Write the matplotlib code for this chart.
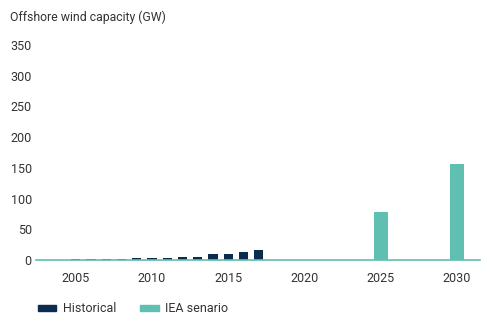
import matplotlib
matplotlib.use("Agg")
import matplotlib.pyplot as plt
from matplotlib.patches import Patch

plt.rcParams['font.family'] = ['Roboto', 'DejaVu Sans']

# data
hist_years = [2005, 2006, 2007, 2008, 2009, 2010, 2011, 2012, 2013, 2014, 2015, 2016, 2017]
hist_values = [1, 1, 1, 1, 2.5, 2.5, 4, 5.5, 5.5, 10, 10, 13, 17]
scen_years = [2025, 2030]
scen_values = [78, 156]
xtick_years = [2005, 2010, 2015, 2020, 2025, 2030]
ytick_values = [0, 50, 100, 150, 200, 250, 300, 350]

navy = "#0b2b4f"
teal = "#5fbfb0"
text_col = "#333333"

fig = plt.figure(figsize=(4.94, 3.25), dpi=100)
ax = fig.add_axes([36 / 494, 1 - 260 / 325, (480 - 36) / 494, (260 - 45) / 325])

ax.bar(hist_years, hist_values, width=0.6, color=navy)
ax.bar(scen_years, scen_values, width=0.92, color=teal)

ax.set_xlim(2002.4, 2031.5)
ax.set_ylim(0, 350)
ax.set_xticks(xtick_years)
ax.set_yticks(ytick_values)
ax.tick_params(length=0, labelsize=9, colors=text_col)
ax.tick_params(axis='x', pad=9)
ax.tick_params(axis='y', pad=3)

for s in ['top', 'right', 'left']:
    ax.spines[s].set_visible(False)
ax.spines['bottom'].set_color(teal)
ax.spines['bottom'].set_linewidth(1.2)

fig.text(10 / 494, 1 - 17 / 325, "Offshore wind capacity (GW)", fontsize=8.8,
         color=text_col, va='center', ha='left')

handles = [Patch(color=navy, label="Historical"), Patch(color=teal, label="IEA senario")]
fig.legend(handles=handles, loc='center left', bbox_to_anchor=(27 / 494, 1 - 309 / 325),
           ncol=2, frameon=False, fontsize=9, handlelength=1.45, handleheight=0.45,
           handletextpad=0.55, columnspacing=1.9, labelcolor=text_col)

fig.savefig("out.png", dpi=100)
